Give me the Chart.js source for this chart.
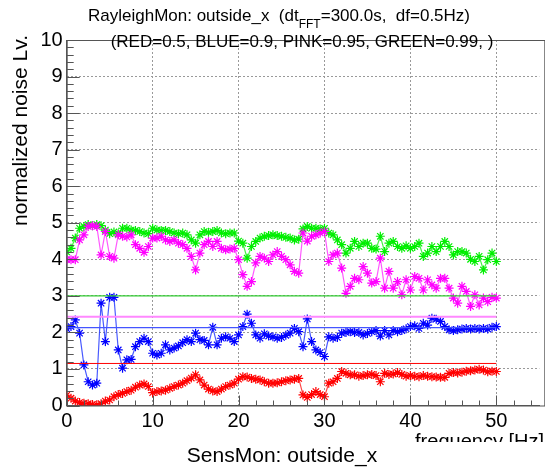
<!DOCTYPE html>
<html>
<head>
<meta charset="utf-8">
<script src="https://cdn.jsdelivr.net/npm/chart.js@4.4.1/dist/chart.umd.min.js"></script>
<style>
  html, body { margin: 0; padding: 0; background: #fff; }
  #wrap { width: 545px; height: 469px; }
</style>
</head>
<body>
<div id="wrap"><canvas id="rayleigh" width="545" height="469"></canvas></div>
<script>
// frequency bins (0.5 Hz steps)
const freq = [0, 0.5, 1, 1.5, 2, 2.5, 3, 3.5, 4, 4.5, 5, 5.5, 6, 6.5, 7, 7.5, 8, 8.5, 9, 9.5,
  10, 10.5, 11, 11.5, 12, 12.5, 13, 13.5, 14, 14.5, 15, 15.5, 16, 16.5, 17, 17.5, 18, 18.5, 19, 19.5,
  20, 20.5, 21, 21.5, 22, 22.5, 23, 23.5, 24, 24.5, 25, 25.5, 26, 26.5, 27, 27.5, 28, 28.5, 29, 29.5,
  30, 30.5, 31, 31.5, 32, 32.5, 33, 33.5, 34, 34.5, 35, 35.5, 36, 36.5, 37, 37.5, 38, 38.5, 39, 39.5,
  40, 40.5, 41, 41.5, 42, 42.5, 43, 43.5, 44, 44.5, 45, 45.5, 46, 46.5, 47, 47.5, 48, 48.5, 49, 49.5, 50];

// RED = 0.5
const red = [0.28, 0.2, 0.12, 0.08, 0.06, 0.05, 0.03, 0.02, 0.05, 0.12,
  0.15, 0.24, 0.3, 0.33, 0.38, 0.42, 0.5, 0.56, 0.59, 0.52,
  0.35, 0.38, 0.4, 0.42, 0.47, 0.52, 0.56, 0.61, 0.68, 0.75,
  0.84, 0.7, 0.56, 0.45, 0.4, 0.38, 0.45, 0.52, 0.56, 0.61,
  0.72, 0.79, 0.78, 0.74, 0.72, 0.7, 0.65, 0.61, 0.61, 0.62,
  0.65, 0.68, 0.7, 0.72, 0.74, 0.29, 0.22, 0.3, 0.38, 0.3,
  0.24, 0.61, 0.65, 0.74, 0.93, 0.88, 0.84, 0.84, 0.8, 0.82,
  0.84, 0.85, 0.82, 0.65, 0.88, 0.85, 0.86, 0.9, 0.85, 0.8,
  0.82, 0.8, 0.79, 0.82, 0.8, 0.79, 0.78, 0.77, 0.77, 0.88,
  0.9, 0.89, 0.91, 0.94, 0.95, 0.97, 0.99, 0.97, 0.92, 0.94, 0.93];

// BLUE = 0.9
const blue = [2.1, 2.16, 2.34, 1.98, 1.11, 0.65, 0.56, 0.61, 2.8, 1.75,
  2.96, 2.96, 1.52, 1.02, 1.25, 1.26, 1.61, 1.75, 1.84, 1.75,
  1.43, 1.38, 1.43, 1.66, 1.52, 1.57, 1.63, 1.72, 1.8, 1.75,
  1.98, 1.8, 1.78, 1.66, 2.14, 1.66, 1.84, 1.88, 1.84, 1.75,
  1.93, 2.16, 2.5, 2.25, 1.93, 1.84, 1.96, 1.9, 1.88, 1.84,
  1.86, 1.92, 1.98, 2.11, 2.02, 1.61, 2.37, 1.75, 1.52, 1.45,
  1.34, 1.88, 1.84, 1.86, 1.98, 2.0, 2.02, 2.0, 2.0, 1.93,
  1.97, 2.02, 2.05, 1.9, 2.05, 1.93, 2.05, 2.02, 2.05, 2.1,
  2.16, 2.18, 2.11, 2.25, 2.2, 2.39, 2.36, 2.3, 2.16, 2.07,
  2.05, 2.07, 2.09, 2.11, 2.09, 2.11, 2.09, 2.11, 2.09, 2.14, 2.16];

// PINK = 0.95
const pink = [3.99, 3.99, 3.99, 4.53, 4.67, 4.9, 4.92, 4.9, 4.12, 4.76,
  4.08, 4.03, 4.67, 4.63, 4.61, 4.67, 4.4, 4.3, 4.19, 4.35,
  4.58, 4.58, 4.63, 4.53, 4.49, 4.53, 4.44, 4.4, 4.3, 4.08,
  3.71, 4.17, 4.4, 4.49, 4.35, 4.49, 4.3, 4.26, 4.28, 4.3,
  3.99, 3.58, 3.26, 3.39, 3.9, 4.08, 4.03, 3.94, 4.12, 4.21,
  4.08, 3.99, 3.85, 3.67, 3.62, 4.72, 4.5, 4.63, 4.67, 4.72,
  4.76, 3.94, 4.12, 4.17, 3.76, 3.07, 3.26, 3.48, 3.44, 3.8,
  3.62, 3.35, 3.39, 4.03, 3.21, 3.67, 3.21, 3.39, 3.03, 3.44,
  3.16, 3.53, 3.48, 3.16, 3.44, 3.3, 3.21, 3.48, 3.48, 3.21,
  2.94, 2.8, 3.26, 3.12, 2.71, 3.03, 2.75, 2.94, 2.84, 2.96, 2.94];

// GREEN = 0.99
const green = [4.2, 4.3, 4.58, 4.85, 4.9, 4.95, 4.92, 4.95, 4.92, 4.8,
  4.7, 4.75, 4.7, 4.85, 4.85, 4.8, 4.79, 4.76, 4.72, 4.7,
  4.85, 4.8, 4.79, 4.79, 4.76, 4.72, 4.7, 4.72, 4.67, 4.53,
  4.44, 4.67, 4.76, 4.74, 4.76, 4.79, 4.72, 4.7, 4.72, 4.72,
  4.5, 4.44, 4.03, 4.35, 4.49, 4.58, 4.63, 4.65, 4.67, 4.65,
  4.63, 4.6, 4.58, 4.53, 4.55, 4.83, 4.9, 4.85, 4.85, 4.83,
  4.85, 4.72, 4.67, 4.53, 4.4, 4.17, 4.3, 4.49, 4.35, 4.44,
  4.44, 4.3, 4.28, 4.63, 4.21, 4.44, 4.49, 4.35, 4.3, 4.37,
  4.3, 4.35, 4.44, 4.08, 4.17, 4.35, 4.21, 4.35, 4.49, 4.35,
  4.12, 4.21, 4.21, 4.17, 4.0, 3.94, 4.08, 3.71, 3.99, 4.17, 3.94];

// threshold levels drawn as flat lines from 0 to 50 Hz
const thrX = [0, 50];
const thrRed = [1.15, 1.15];
const thrBlue = [2.13, 2.13];
const thrPink = [2.43, 2.43];
const thrGreen = [3.0, 3.0];

const xTicks = [0, 10, 20, 30, 40, 50];
const yTicks = [0, 1, 2, 3, 4, 5, 6, 7, 8, 9, 10];

function pts(xs, ys) {
  return xs.map(function (x, i) { return { x: x, y: ys[i] }; });
}

function series(label, ys, color, lineColor) {
  return {
    label: label,
    data: pts(freq, ys),
    borderColor: lineColor,
    borderWidth: 1.2,
    pointStyle: 'star',
    pointRadius: 4.5,
    pointBorderWidth: 1.2,
    pointBorderColor: color,
    pointBackgroundColor: color,
    tension: 0
  };
}

function level(label, ys, color, width) {
  return {
    label: label,
    data: pts(thrX, ys),
    borderColor: color,
    borderWidth: width,
    pointRadius: 0,
    tension: 0
  };
}

const FONT = "'Liberation Sans', Arial, sans-serif";

// ROOT style frame, inward ticks and the extra texts
const rootDecor = {
  id: 'rootDecor',
  afterDraw: function (chart) {
    const ctx = chart.ctx;
    const a = chart.chartArea;
    const xs = chart.scales.x, ys = chart.scales.y;
    ctx.save();
    ctx.strokeStyle = '#555';
    ctx.lineWidth = 1;
    ctx.strokeRect(a.left + 0.5, a.top + 0.5, a.right - a.left + 5, a.bottom - a.top);

    // inward tick marks
    ctx.beginPath();
    for (let v = 0; v <= 55; v += 2) {
      const px = Math.round(xs.getPixelForValue(v)) + 0.5;
      const len = (v % 10 === 0) ? 10 : 5;
      ctx.moveTo(px, a.bottom); ctx.lineTo(px, a.bottom - len);
    }
    for (let i = 0; i <= 50; i++) {
      const py = Math.round(ys.getPixelForValue(i / 5)) + 0.5;
      const len = (i % 5 === 0) ? 13 : 7;
      ctx.moveTo(a.left, py); ctx.lineTo(a.left + len, py);
    }
    ctx.stroke();

    ctx.fillStyle = '#000';
    ctx.textBaseline = 'alphabetic';

    // title line 1 with subscript
    const p1 = 'RayleighMon: outside_x  (dt';
    const p2 = '=300.0s,  df=0.5Hz)';
    ctx.font = '12px ' + FONT;
    const wsub = ctx.measureText('FFT').width;
    ctx.font = '17px ' + FONT;
    const w1 = ctx.measureText(p1).width, w2 = ctx.measureText(p2).width;
    const x0 = 279 - (w1 + wsub + w2) / 2;
    ctx.textAlign = 'left';
    ctx.fillText(p1, x0, 21);
    ctx.font = '12px ' + FONT;
    ctx.fillText('FFT', x0 + w1, 28);
    ctx.font = '17px ' + FONT;
    ctx.fillText(p2, x0 + w1 + wsub, 21);

    // title line 2 (sits on the frame line)
    ctx.textAlign = 'center';
    ctx.fillText('(RED=0.5, BLUE=0.9, PINK=0.95, GREEN=0.99, )', 302, 47);

    // y title
    ctx.save();
    ctx.translate(27, 35);
    ctx.rotate(-Math.PI / 2);
    ctx.textAlign = 'right';
    ctx.font = '21px ' + FONT;
    ctx.fillText('normalized noise Lv.', 0, 0);
    ctx.restore();

    // x title, clipped at the bottom like the reference
    ctx.save();
    ctx.beginPath();
    ctx.rect(0, 425, 545, 17);
    ctx.clip();
    ctx.textAlign = 'right';
    ctx.font = '20px ' + FONT;
    ctx.fillText('frequency [Hz]', 544, 448);
    ctx.restore();

    ctx.textAlign = 'center';
    ctx.font = '21px ' + FONT;
    ctx.fillText('SensMon: outside_x', 282, 462);
    ctx.restore();
  }
};

new Chart(document.getElementById('rayleigh'), {
  type: 'line',
  data: {
    datasets: [
      level('red level', thrRed, '#ff0000', 1),
      level('green level', thrGreen, '#33cc33', 1.2),
      level('pink level', thrPink, '#ff88ff', 2),
      level('blue level', thrBlue, '#4455ff', 1.2),
      series('RED', red, '#ff0000', 'rgba(255,40,40,0.85)'),
      series('BLUE', blue, '#0000ff', 'rgba(40,60,255,0.85)'),
      series('PINK', pink, '#ff00ff', 'rgba(255,60,255,0.85)'),
      series('GREEN', green, '#00ee00', 'rgba(40,240,40,0.85)')
    ]
  },
  options: {
    responsive: false,
    animation: false,
    devicePixelRatio: 1,
    layout: { padding: { left: 0, top: 40, right: 0, bottom: 0 } },
    plugins: {
      legend: { display: false },
      tooltip: { enabled: false }
    },
    scales: {
      x: {
        type: 'linear',
        min: 0,
        max: 55,
        afterFit: function (s) { s.height = 63.5; },
        ticks: {
          stepSize: 10,
          includeBounds: false,
          autoSkip: false,
          maxRotation: 0,
          padding: 4,
          color: '#000',
          font: { family: FONT, size: 20 },
          callback: function (v) { return xTicks.indexOf(v) >= 0 ? String(v) : ''; }
        },
        grid: {
          color: function (c) { return (c.tick && c.tick.value > 0) ? '#999' : 'rgba(0,0,0,0)'; },
          drawTicks: false,
          lineWidth: 1
        },
        border: { display: true, color: '#555', dash: [2, 2] }
      },
      y: {
        min: 0,
        max: 10,
        afterFit: function (s) { s.width = 66.7; },
        ticks: {
          stepSize: 1,
          padding: 4,
          color: '#000',
          font: { family: FONT, size: 20 },
          callback: function (v) { return yTicks.indexOf(v) >= 0 ? String(v) : ''; }
        },
        grid: {
          color: function (c) { return (c.tick && c.tick.value > 0 && c.tick.value < 10) ? '#999' : 'rgba(0,0,0,0)'; },
          drawTicks: false,
          lineWidth: 1
        },
        border: { display: true, color: '#555', dash: [2, 2] }
      }
    }
  },
  plugins: [rootDecor]
});
</script>
</body>
</html>
